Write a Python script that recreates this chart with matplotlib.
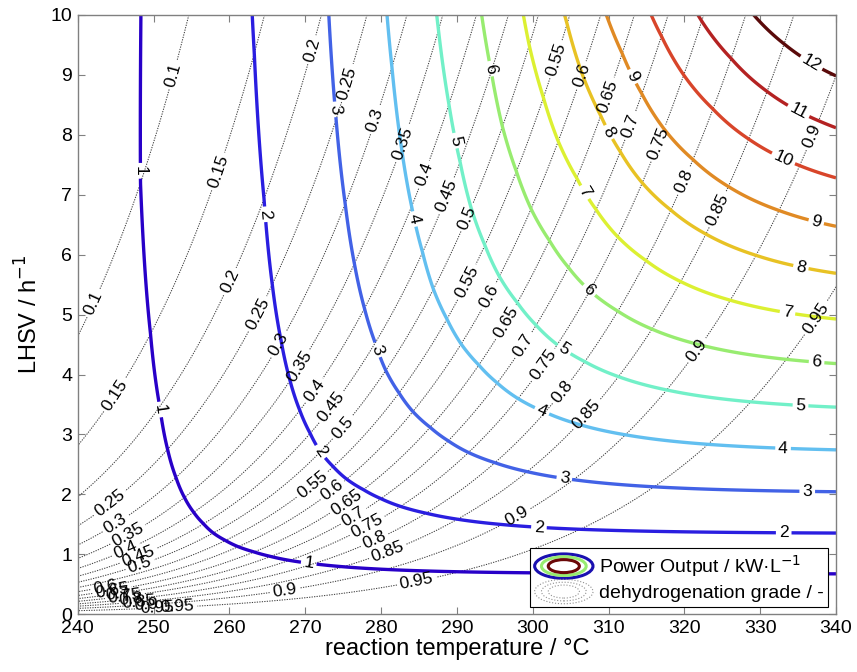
import numpy as np
import matplotlib.pyplot as plt
from matplotlib.patches import Ellipse
from matplotlib.legend_handler import HandlerBase
from matplotlib.lines import Line2D

plt.rcParams['font.family'] = ['Liberation Sans', 'DejaVu Sans']

# Arrhenius rate constant
t_ref = 250.0        # °C
k_ref = 0.851        # 1/h at t_ref
ea_r = 14200.0       # activation temperature, K
# net power = LHSV * (p_gross * grade - p_loss)
p_gross = 1.496
p_loss = 0.0107

grade_levels = [0.1, 0.15, 0.2, 0.25, 0.3, 0.35, 0.4, 0.45, 0.5, 0.55,
                0.6, 0.65, 0.7, 0.75, 0.8, 0.85, 0.9, 0.95]
# Damkoehler number k/LHSV on each grade line
grade_da = [0.108, 0.178, 0.256, 0.34, 0.434, 0.538, 0.656, 0.79, 0.938, 1.12,
            1.33, 1.60, 1.92, 2.32, 2.89, 3.70, 5.09, 8.37]
# end points outside the drawn range
low_grade, low_da = [0.001, 0.01], [0.001, 0.0101]
high_grade, high_da = [0.99, 0.999], [25.2, 117.7]

power_levels = [1, 2, 3, 4, 5, 6, 7, 8, 9, 10, 11, 12]
power_colors = ['#2800c8', '#2a1ee0', '#4262e6', '#62bff0', '#72f0c8', '#98ec70',
                '#dcf032', '#e8c224', '#e08a24', '#d8452a', '#b42222', '#5a0a0a']

# label positions (temperature, LHSV)
power_label_pos = [(248.3, 7.4), (249.9, 3.4), (270.4, 0.79),
                   (264.3, 6.67), (271.4, 2.66), (300.8, 1.41), (333.1, 1.3),
                   (273.5, 8.42), (278.8, 4.38), (304.1, 2.21), (336.2, 1.99),
                   (283.8, 6.58), (301.0, 3.33), (333.0, 2.71),
                   (289.3, 7.89), (303.8, 4.36), (335.3, 3.44),
                   (293.9, 9.09), (307.1, 5.36), (337.4, 4.15),
                   (306.7, 7.03), (333.6, 5.03),
                   (309.8, 8.03), (335.3, 5.75),
                   (312.8, 8.95), (337.3, 6.5),
                   (332.9, 7.56), (334.9, 8.36), (336.6, 9.17)]
grade_label_pos = [(252.6, 9.0), (242.0, 5.19),
                   (258.5, 7.39), (244.9, 3.66),
                   (270.9, 9.42), (260.1, 5.55),
                   (275.7, 8.86), (263.6, 5.02), (244.2, 1.85),
                   (279.2, 8.25), (266.5, 4.5), (244.9, 1.52),
                   (283.2, 7.84), (268.9, 4.16), (246.5, 1.35),
                   (285.8, 7.33), (271.1, 3.74), (246.2, 1.1),
                   (288.9, 6.97), (273.3, 3.47), (247.8, 1.02),
                   (291.5, 6.61), (274.8, 3.13), (248.2, 0.82),
                   (303.4, 9.25), (291.5, 5.53), (270.6, 2.21),
                   (306.7, 8.98), (294.2, 5.3), (273.5, 2.08),
                   (310.0, 8.64), (296.4, 4.88), (275.2, 1.91),
                   (313.1, 8.14), (298.6, 4.5), (276.1, 1.69),
                   (316.6, 7.86), (301.4, 4.16), (278.1, 1.49),
                   (320.1, 7.22), (303.8, 3.72), (279.0, 1.27),
                   (324.5, 6.75), (307.1, 3.33), (280.8, 1.07),
                   (337.0, 7.97), (321.6, 4.41), (297.9, 1.63), (267.3, 0.38),
                   (337.0, 4.97), (284.7, 0.54),
                   (243.6, 0.45), (244.5, 0.4), (245.3, 0.35), (246.2, 0.3),
                   (247.0, 0.26), (248.0, 0.22), (249.0, 0.18), (250.5, 0.13),
                   (253.0, 0.08)]

temp = np.linspace(240, 340, 501)
lhsv = np.linspace(0.005, 10, 1000)
T, L = np.meshgrid(temp, lhsv)
k = k_ref * np.exp(-ea_r * (1 / (T + 273.15) - 1 / (t_ref + 273.15)))
da = k / L

x_pts = np.array(low_grade + grade_levels + high_grade)
d_pts = np.array(low_da + grade_da + high_da)
logit = np.interp(np.log(da), np.log(d_pts), np.log(x_pts / (1 - x_pts)))
grade = 1 / (1 + np.exp(-logit))
power = L * (p_gross * grade - p_loss)


class EllipseHandler(HandlerBase):
    def __init__(self, colors, lw, ls):
        super().__init__()
        self.colors = colors
        self.lw = lw
        self.ls = ls

    def create_artists(self, legend, orig_handle, xdescent, ydescent,
                       width, height, fontsize, trans):
        cx = width / 2 - xdescent
        cy = height / 2 - ydescent
        out = []
        n = len(self.colors)
        for i, c in enumerate(self.colors):
            f = 1 - i * 0.7 / n
            e = Ellipse((cx, cy), width * f, height * 1.4 * f, fill=False,
                        edgecolor=c, lw=self.lw, ls=self.ls, transform=trans)
            out.append(e)
        return out


fig = plt.figure(figsize=(8.57, 6.72), dpi=100)
ax = fig.add_axes([0.0908, 0.0859, 0.8847, 0.8918])

cg = ax.contour(T, L, grade, levels=grade_levels, colors='#404040',
                linewidths=0.75, linestyles=[(0, (1.2, 1.2))])
ax.clabel(cg, fmt='%g', fontsize=12.5, inline=True, inline_spacing=3,
          colors='black', manual=grade_label_pos)

cp = ax.contour(T, L, power, levels=power_levels, colors=power_colors,
                linewidths=2.4)
ax.clabel(cp, fmt='%d', fontsize=12.5, inline=True, inline_spacing=3,
          colors='black', manual=power_label_pos)

ax.set_xlim(240, 340)
ax.set_ylim(0, 10)
ax.set_xticks(range(240, 341, 10))
ax.set_yticks(range(0, 11))
ax.tick_params(direction='in', top=True, right=True, length=5, width=0.8,
               color='#808080', labelsize=14, pad=4)
for s in ax.spines.values():
    s.set_color('#808080')
    s.set_linewidth(1.0)
ax.set_xlabel('reaction temperature / °C', fontsize=17, labelpad=1)
ax.set_ylabel('LHSV / h$^{-1}$', fontsize=17, labelpad=6)

h1 = Line2D([], [])
h2 = Line2D([], [])
leg = ax.legend([h1, h2], ['Power Output / kW·L$^{-1}$', 'dehydrogenation grade / -'],
                handler_map={h1: EllipseHandler(['#1a10b0', '#98ec70', '#6a0808'], 2.2, '-'),
                             h2: EllipseHandler(['#909090', '#909090', '#909090'], 0.8, ':')},
                loc='lower right', bbox_to_anchor=(0.99, 0.012), borderaxespad=0,
                fontsize=14, handlelength=3.0, handleheight=1.0, handletextpad=0.3,
                borderpad=0.25, labelspacing=0.2, fancybox=False, framealpha=1,
                edgecolor='black')
leg.get_frame().set_linewidth(0.8)

fig.savefig('out.png', dpi=100)
